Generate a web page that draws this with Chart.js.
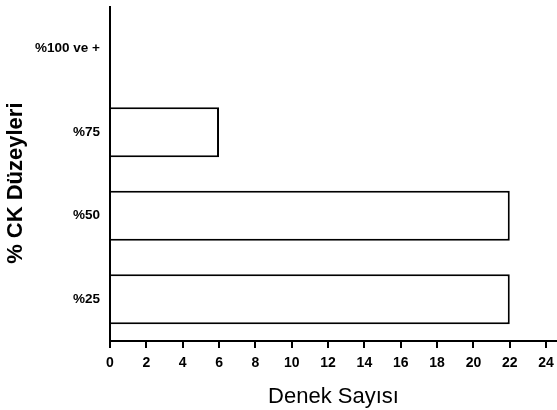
<!DOCTYPE html>
<html>
<head>
<meta charset="utf-8">
<script src="https://cdn.jsdelivr.net/npm/chart.js@4"></script>
<style>
  html, body { margin: 0; padding: 0; background: #fff; }
  #wrap { width: 557px; height: 410px; }
</style>
</head>
<body>
<div id="wrap"><canvas id="chart"></canvas></div>
<script>
const categories = ['%100 ve +', '%75', '%50', '%25'];
const counts = [0, 6, 22, 22];
const xTicks = [0, 2, 4, 6, 8, 10, 12, 14, 16, 18, 20, 22, 24];

Chart.defaults.font.family = '"Liberation Sans", Arial, sans-serif';
Chart.defaults.color = '#000';

const ctx = document.getElementById('chart').getContext('2d');
new Chart(ctx, {
    type: 'bar',
    data: {
        labels: categories,
        datasets: [{
            data: counts,
            backgroundColor: '#fff',
            borderColor: '#000',
            borderWidth: 2,
            barPercentage: 0.6,
            categoryPercentage: 1
        }]
    },
    options: {
        indexAxis: 'y',
        responsive: true,
        maintainAspectRatio: false,
        animation: false,
        layout: { padding: { top: 7, left: 0, right: 0, bottom: 0 } },
        plugins: {
            legend: { display: false },
            tooltip: { enabled: false }
        },
        scales: {
            x: {
                min: 0,
                max: 24.6,
                afterBuildTicks: scale => {
                    scale.ticks = xTicks.map(v => ({ value: v }));
                },
                afterFit: scale => {
                    scale.height = 69;
                    scale.paddingLeft = 0;
                    scale.paddingRight = 0;
                },
                ticks: {
                    padding: 7,
                    font: { size: 14, weight: 'bold' }
                },
                grid: {
                    drawOnChartArea: false,
                    drawTicks: true,
                    tickLength: 7,
                    color: '#000',
                    lineWidth: 2
                },
                border: { color: '#000', width: 2 },
                title: {
                    display: true,
                    text: 'Denek Sayısı',
                    font: { size: 22 },
                    padding: { top: 0, bottom: 0 }
                }
            },
            y: {
                afterFit: scale => {
                    scale.width = 110;
                    scale.paddingTop = 0;
                    scale.paddingBottom = 0;
                },
                ticks: {
                    padding: 10,
                    font: { size: 13.5, weight: 'bold' }
                },
                grid: { display: false, drawTicks: false },
                border: { color: '#000', width: 2 },
                title: {
                    display: true,
                    // trailing spaces push the rotated title a bit lower
                    text: '% CK Düzeyleri   ',
                    font: { size: 22, weight: 'bold' },
                    padding: { top: 3, bottom: 0 }
                }
            }
        }
    }
});
</script>
</body>
</html>
